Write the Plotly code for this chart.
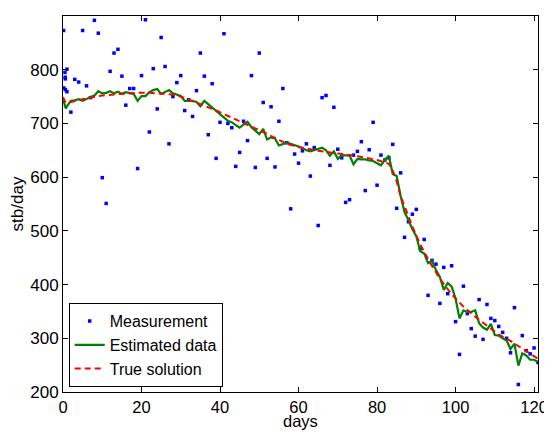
import plotly.graph_objects as go

# Measurement data (days, stb/day)
meas_days = [0.15, 0.2, 0.5, 0.55, 0.6, 0.6, 1.0, 1.0] + list(range(2, 122))
meas_vals = [873, 766, 795, 786, 783, 763, 801, 759,
             721, 782, 777, 873, 770, 748, 892, 868, 599, 551,
             797, 831, 838, 788, 734, 765, 765, 616, 789, 893,
             684, 802, 727, 860, 806, 662, 750, 776, 789, 724,
             744, 713, 761, 831, 788, 679, 774, 635, 702, 867,
             700, 692, 620, 646, 704, 668, 789, 618, 831, 739,
             635, 731, 619, 704, 765, 664, 541, 643, 626, 649,
             662, 602, 655, 510, 748, 752, 622, 730, 652, 636,
             553, 558, 641, 648, 666, 575, 651, 702, 585, 641,
             632, 636, 661, 542, 608, 488, 517, 531, 540, 467,
             484, 380, 445, 438, 365, 432, 383, 435, 331, 270,
             397, 346, 318, 304, 372, 298, 363, 337, 333, 322,
             311, 300, 273, 357, 214, 305, 277, 271, 282, 255]

# Estimated data
est_days = [0, 0.3, 0.7, 1.2] + list(range(2, 122))
est_vals = [746, 738, 728, 734,
            742, 743, 745, 742, 746, 749, 752, 760, 756, 757,
            760, 756, 759, 755, 758, 756, 755, 742, 751, 751,
            758, 762, 764, 755, 758, 762, 756, 753, 751, 742,
            742, 742, 740, 732, 742, 736, 730, 724, 718, 711,
            705, 702, 697, 692, 698, 703, 693, 687, 680, 690,
            670, 674, 672, 659, 662, 664, 662, 660, 657, 654,
            650, 648, 650, 652, 655, 650, 640, 648, 634, 641,
            640, 640, 624, 634, 633, 633, 631, 630, 626, 622,
            632, 640, 606, 602, 565, 535, 520, 503, 490, 462,
            458, 440, 444, 427, 414, 390, 403, 396, 374, 337,
            352, 349, 349, 352, 328, 320, 316, 327, 306, 305,
            300, 296, 280, 290, 249, 272, 268, 260, 260, 256]

# True solution
true_days = [0, 0.5, 1, 2, 3, 5, 7, 10, 13, 16, 19, 22, 25, 28, 30, 33, 36, 39,
             42, 45, 48, 51, 54, 57, 60, 65, 70, 75, 80, 82, 83, 84, 85, 86,
             87, 88, 89, 90, 91, 93, 96, 99, 102, 105, 108, 111, 114, 117, 119, 121]
true_vals = [749, 741, 738, 740, 742, 745, 748, 752, 754, 756, 757, 757, 756, 754,
             750, 742, 733, 724, 714, 705, 694, 684, 673, 662, 656, 649, 644, 639,
             632, 628, 625, 612, 592, 565, 546, 525, 508, 491, 475, 447, 411, 382,
             359, 340, 323, 307, 295, 281, 271, 262]

x_ticks = [0, 20, 40, 60, 80, 100, 120]
y_ticks = [200, 300, 400, 500, 600, 700, 800, 900]

FONT = "Arial, Liberation Sans, sans-serif"

fig = go.Figure()
fig.add_trace(go.Scatter(x=meas_days, y=meas_vals, mode="markers", name="Measurement",
                         marker=dict(color="#0000ff", size=3.5, symbol="square")))
fig.add_trace(go.Scatter(x=est_days, y=est_vals, mode="lines", name="Estimated data",
                         line=dict(color="#008000", width=2.2)))
fig.add_trace(go.Scatter(x=true_days, y=true_vals, mode="lines", name="True solution",
                         line=dict(color="#ff0000", width=2, dash="6px,4px")))

axis_common = dict(showline=True, linecolor="black", linewidth=1, mirror="ticks",
                   ticks="inside", ticklen=5, tickcolor="black", showgrid=False,
                   zeroline=False, automargin=False)

fig.update_xaxes(range=[0, 121], tickvals=x_ticks,
                 tickfont=dict(family=FONT, size=16.5, color="black"), **axis_common)
fig.update_yaxes(range=[200, 900], tickvals=y_ticks,
                 tickfont=dict(family=FONT, size=17, color="black"),
                 title=dict(text="stb/day", font=dict(family=FONT, size=17, color="black")),
                 **axis_common)

# x-axis title as annotation so it sits just under the tick labels
fig.add_annotation(text="days", xref="paper", yref="paper", x=0.5, y=-0.104,
                   xanchor="center", yanchor="bottom", showarrow=False, borderpad=0,
                   font=dict(family=FONT, size=16.5, color="black"))

# page body adds an 8px offset; figure is sized so the page is exactly 552x432
fig.update_layout(
    width=544, height=424,
    margin=dict(l=55, r=14, t=8, b=40),
    paper_bgcolor="white", plot_bgcolor="white",
    font=dict(family=FONT, size=17, color="black"),
    legend=dict(x=0.012, y=0.013, xanchor="left", yanchor="bottom",
                bgcolor="white", bordercolor="black", borderwidth=1,
                font=dict(family=FONT, size=16, color="black"),
                tracegroupgap=0, itemwidth=30),
    showlegend=True,
)

fig.write_html("out.html")
